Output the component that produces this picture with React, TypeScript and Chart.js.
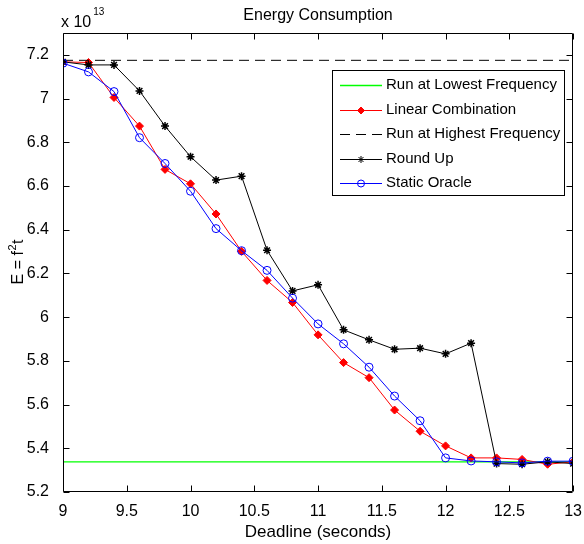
import React, { useEffect, useRef } from 'react';
import { Chart, registerables } from 'chart.js';
import { drawPoint } from 'chart.js/helpers';

Chart.register(...registerables);

const deadlines = [9, 9.2, 9.4, 9.6, 9.8, 10, 10.2, 10.4, 10.6, 10.8, 11, 11.2, 11.4, 11.6, 11.8, 12, 12.2, 12.4, 12.6, 12.8, 13];
const linearCombination = [7.168, 7.165, 7.005, 6.874, 6.676, 6.61, 6.472, 6.301, 6.168, 6.067, 5.919, 5.792, 5.723, 5.575, 5.478, 5.411, 5.356, 5.356, 5.349, 5.327, 5.338];
const roundUp = [7.168, 7.154, 7.154, 7.035, 6.874, 6.734, 6.627, 6.645, 6.306, 6.12, 6.148, 5.942, 5.896, 5.853, 5.858, 5.832, 5.881, 5.33, 5.327, 5.338, 5.33];
const staticOracle = [7.162, 7.122, 7.032, 6.821, 6.703, 6.576, 6.405, 6.304, 6.214, 6.087, 5.969, 5.878, 5.771, 5.639, 5.526, 5.356, 5.342, 5.338, 5.333, 5.341, 5.341];
const lowestFrequencyEnergy = 5.338;
const highestFrequencyEnergy = 7.175;
const xTicks = [9, 9.5, 10, 10.5, 11, 11.5, 12, 12.5, 13];
const yTicks = [5.2, 5.4, 5.6, 5.8, 6, 6.2, 6.4, 6.6, 6.8, 7, 7.2];
const seriesLabels = ['Run at Lowest Frequency', 'Linear Combination', 'Run at Highest Frequency', 'Round Up', 'Static Oracle'];

const FONT = '"Liberation Sans", Arial, Helvetica, sans-serif';

const toPoints = (ys: number[]) => deadlines.map((x, i) => ({ x, y: ys[i] }));
const flat = (v: number) => [{ x: deadlines[0], y: v }, { x: deadlines[deadlines.length - 1], y: v }];

const decorPlugin = {
  id: 'decor',
  afterDatasetsDraw(chart: any) {
    const ctx = chart.ctx as CanvasRenderingContext2D;
    const { left, right, top, bottom } = chart.chartArea;
    const xs = chart.scales.x;
    const ys = chart.scales.y;
    ctx.save();
    ctx.strokeStyle = '#000';
    ctx.lineWidth = 1;
    ctx.setLineDash([]);
    const L = Math.round(left) + 0.5, R = Math.round(right) - 0.5, T = Math.round(top) + 0.5, B = Math.round(bottom) - 0.5;
    ctx.beginPath();
    ctx.rect(L, T, R - L, B - T);
    ctx.stroke();
    const tl = 6;
    ctx.beginPath();
    xTicks.forEach((v) => {
      const px = Math.round(xs.getPixelForValue(v)) + 0.5;
      ctx.moveTo(px, B); ctx.lineTo(px, B - tl);
      ctx.moveTo(px, T); ctx.lineTo(px, T + tl);
    });
    yTicks.forEach((v) => {
      const py = Math.round(ys.getPixelForValue(v)) + 0.5;
      ctx.moveTo(L, py); ctx.lineTo(L + tl, py);
      ctx.moveTo(R, py); ctx.lineTo(R - tl, py);
    });
    ctx.stroke();

    // texts
    ctx.fillStyle = '#000';
    const cx = (left + right) / 2;
    ctx.font = `16px ${FONT}`;
    ctx.textAlign = 'center';
    ctx.textBaseline = 'alphabetic';
    ctx.fillText('Energy Consumption', cx, 20);
    ctx.font = `17px ${FONT}`;
    ctx.fillText('Deadline (seconds)', cx, 537);

    // exponent
    ctx.textAlign = 'left';
    ctx.font = `16px ${FONT}`;
    ctx.fillText('x 10', 61, 27);
    const wx = ctx.measureText('x 10').width;
    ctx.font = `10px ${FONT}`;
    ctx.fillText('13', 61 + wx + 2, 15);

    // y label
    ctx.save();
    ctx.translate(23, 262);
    ctx.rotate(-Math.PI / 2);
    ctx.font = `16px ${FONT}`;
    const p1 = 'E = f';
    const w1 = ctx.measureText(p1).width;
    ctx.font = `11px ${FONT}`;
    const w2 = ctx.measureText('2').width;
    ctx.font = `16px ${FONT}`;
    const w3 = ctx.measureText('t').width;
    const total = w1 + w2 + w3 + 1;
    let x0 = -total / 2;
    ctx.textAlign = 'left';
    ctx.fillText(p1, x0, 0);
    x0 += w1 + 0.5;
    ctx.font = `11px ${FONT}`;
    ctx.fillText('2', x0, -7);
    x0 += w2 + 0.5;
    ctx.font = `16px ${FONT}`;
    ctx.fillText('t', x0, 0);
    ctx.restore();

    // legend
    const bx = 332.5, by = 70.5, bw = 232, bh = 125;
    ctx.fillStyle = '#fff';
    ctx.fillRect(bx, by, bw, bh);
    ctx.strokeStyle = '#000';
    ctx.lineWidth = 1;
    ctx.strokeRect(bx, by, bw, bh);
    const rowY = [85, 109.5, 134, 158.5, 183];
    chart.data.datasets.forEach((ds: any, i: number) => {
      const y = Math.round(rowY[i]) + 0.5;
      ctx.save();
      ctx.strokeStyle = ds.borderColor;
      ctx.lineWidth = ds.borderWidth || 1;
      ctx.setLineDash(ds.borderDash || []);
      ctx.beginPath();
      ctx.moveTo(340, y);
      ctx.lineTo(382, y);
      ctx.stroke();
      ctx.setLineDash([]);
      if (ds.pointRadius > 0) {
        ctx.fillStyle = ds.pointBackgroundColor || ds.backgroundColor;
        ctx.strokeStyle = ds.pointBorderColor || ds.borderColor;
        ctx.lineWidth = 1;
        drawPoint(ctx, { pointStyle: ds.pointStyle, radius: 3.5, rotation: 0, borderWidth: 1 }, 361, y);
      }
      ctx.restore();
      ctx.fillStyle = '#000';
      ctx.font = `15px ${FONT}`;
      ctx.textAlign = 'left';
      ctx.textBaseline = 'middle';
      ctx.fillText(ds.label, 386, rowY[i]);
    });
    ctx.restore();
  },
};

export default function App() {
  const ref = useRef<HTMLCanvasElement | null>(null);
  useEffect(() => {
    if (!ref.current) return;
    const chart = new Chart(ref.current, {
      type: 'line',
      data: {
        datasets: [
          {
            label: seriesLabels[0],
            data: flat(lowestFrequencyEnergy),
            borderColor: '#00ff00',
            borderWidth: 1.3,
            pointRadius: 0,
            order: 5,
          },
          {
            label: seriesLabels[1],
            data: toPoints(linearCombination),
            borderColor: '#ff0000',
            backgroundColor: '#ff0000',
            borderWidth: 1,
            pointStyle: 'rectRot',
            pointRadius: 4,
            pointBackgroundColor: '#ff0000',
            pointBorderColor: '#ff0000',
            order: 4,
          },
          {
            label: seriesLabels[2],
            data: flat(highestFrequencyEnergy),
            borderColor: '#000000',
            borderWidth: 1,
            borderDash: [10, 6],
            pointRadius: 0,
            order: 3,
          },
          {
            label: seriesLabels[3],
            data: toPoints(roundUp),
            borderColor: '#000000',
            backgroundColor: '#000000',
            borderWidth: 1,
            pointStyle: 'star',
            pointRadius: 4,
            pointBorderColor: '#000000',
            pointBorderWidth: 1.5,
            order: 2,
          },
          {
            label: seriesLabels[4],
            data: toPoints(staticOracle),
            borderColor: '#0000ff',
            backgroundColor: 'rgba(0,0,0,0)',
            borderWidth: 1,
            pointStyle: 'circle',
            pointRadius: 4,
            pointBackgroundColor: 'rgba(0,0,0,0)',
            pointBorderColor: '#0000ff',
            order: 1,
          },
        ] as any,
      },
      options: {
        animation: false,
        responsive: false,
        maintainAspectRatio: false,
        layout: { padding: { top: 33, right: 0, left: 0, bottom: 0 } },
        plugins: {
          legend: { display: false },
          title: { display: false },
          tooltip: { enabled: false },
        },
        scales: {
          x: {
            type: 'linear',
            min: 9,
            max: 13,
            afterBuildTicks: (s: any) => { s.ticks = xTicks.map((v) => ({ value: v })); },
            afterFit: (s: any) => { s.height = 52; },
            grid: { display: false },
            border: { display: false },
            ticks: {
              color: '#000',
              font: { family: FONT, size: 16 },
              padding: 2,
              maxRotation: 0,
              autoSkip: false,
              callback: (v: any) => String(Math.round(Number(v) * 10) / 10),
            },
          },
          y: {
            type: 'linear',
            min: 5.2,
            max: 7.3,
            afterBuildTicks: (s: any) => { s.ticks = yTicks.map((v) => ({ value: v })); },
            afterFit: (s: any) => { s.width = 63; },
            grid: { display: false },
            border: { display: false },
            ticks: {
              color: '#000',
              font: { family: FONT, size: 16 },
              padding: 6,
              autoSkip: false,
              callback: (v: any) => String(Math.round(Number(v) * 10) / 10),
            },
          },
        },
      } as any,
      plugins: [decorPlugin],
    });
    return () => chart.destroy();
  }, []);
  return (
    <div style={{ position: 'absolute', left: 0, top: 0, width: 584, height: 544, background: '#fff' }}>
      <canvas ref={ref} width={584} height={544} style={{ display: 'block' }} />
    </div>
  );
}
